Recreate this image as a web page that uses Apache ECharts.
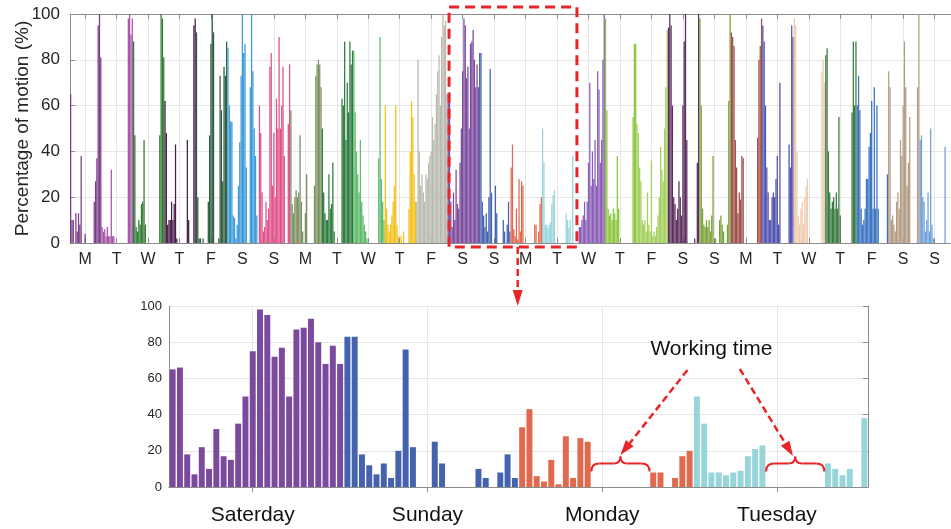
<!DOCTYPE html>
<html><head><meta charset="utf-8">
<script src="https://cdn.jsdelivr.net/npm/echarts@6/dist/echarts.min.js"></script>
<style>html,body{margin:0;padding:0;background:#fff}#c{width:951px;height:529px}</style>
</head><body><div id="c"></div>
<script>
const dayLabels = ['M','T','W','T','F','S','S','M','T','W','T','F','S','S','M','T','W','T','F','S','S','M','T','W','T','F','S','S'];
const zoomLabels = ['Saterday','Sunday','Monday','Tuesday'];
const yTicks = [0, 20, 40, 60, 80, 100];

// zoomed days (hourly %)
const saturday = [65,66,18,7,22,10,32,17,15,35,50,75,98,95,72,77,50,87,88,93,80,68,78,68];
const sunday   = [83,83,18,12,7,13,5,20,76,22,0,0,25,13,0,0,0,0,10,5,0,8,18,5];
const monday   = [33,43,6,3,15,1.5,28,5,27,25,0,0,0,0,0,0,0,0,8,8,0,5,17,20];
const tuesday  = [50,35,8,8,6.5,8,9,17,21,23,0,0,0,0,0,0,0,0,13,10,6.5,10,0,38];

const week1 = [
 [65,10,10,0,13,5,13,8,38,0,0,4,0,0,0,0,0,0,18,27,37,95,100,81],
 [7,5,6,3,7,3,3,32,3,3,0,0,0,0,0,0,0,0,0,0,98,100,91,98],
 [88,47,7,5,10,8,17,18,45,8,0,0,0,0,0,0,0,0,0,0,47,100,98,81],
 [62,48,8,10,10,18,10,17,43,2,0,0,0,0,0,0,0,45,10,0,0,0,95,98],
 [92,20,2,2,0,2,0,0,0,18,47,87,100,92,0,0,0,2,73,58,27,77,73,88],
 [85,60,53,53,12,11,2,8,25,44,73,100,83,87,33,0,0,68,100,75,50,38,12,0],
 [60,48,22,5,7,18,10,15,77,83,25,48,20,63,50,90,50,60,77,38,0,0,52,78]
];
const week2 = [
 [58,17,13,20,23,20,22,47,18,5,0,13,30,0,0,0,0,0,25,73,78,80,78,68],
 [50,22,13,10,10,30,15,17,35,5,0,0,0,0,0,63,60,88,45,70,57,88,78,84],
 [84,57,40,30,22,45,18,12,8,5,2,0,0,0,0,0,0,0,0,37,90,28,18,10],
 [60,15,8,5,8,12,18,25,60,8,3,0,3,0,5,0,0,0,15,40,62,55,30,18],
 [18,80,40,25,30,22,18,30,28,35,38,40,55,45,52,65,75,82,60,90,100,95,97,65],
 saturday,
 sunday
];
const week3 = [
 monday,
 tuesday,
 [0,0,0,0,7,7,10,12,18,10,18,35,70,25,40,28,45,25,75,67,35,45,80,100],
 [98,58,15,12,13,10,15,13,10,38,15,0,0,0,0,0,0,0,0,0,0,55,87,87],
 [52,48,33,27,10,8,10,5,22,8,5,36,3,5,3,7,12,20,42,32,27,50,68,93],
 [94,100,95,60,20,17,10,15,27,20,12,60,88,100,45,0,0,0,0,0,2,0,35,100],
 [98,60,15,8,7,10,7,10,5,12,38,0,2,0,0,10,12,8,5,0,0,8,62,100]
];
const week4 = [
 [92,90,86,45,33,13,22,19,38,37,0,0,0,0,0,0,0,0,0,0,46,80,86,98],
 [95,88,60,33,22,10,10,20,22,20,28,38,8,70,0,0,0,0,0,0,43,33,95,90],
 [98,95,40,12,8,15,18,8,20,25,28,0,0,0,0,0,0,0,0,0,0,75,80,70],
 [82,85,40,22,15,18,20,15,22,15,55,12,0,0,0,0,0,0,0,0,57,88,60,88],
 [60,73,58,15,8,10,15,28,28,42,48,62,15,68,15,60,15,0,0,0,0,0,0,30],
 [75,68,10,12,8,5,18,22,15,45,38,60,88,68,25,35,55,0,0,0,0,0,68,100],
 [45,47,20,18,5,10,22,5,50,8,2,0,0,0,0,0,0,0,0,42,0,0,0,0]
];

const dayColors = ['#7D3C8C','#A855A8','#2E7D32','#4A1E48','#2F5D40','#3A9AD9','#E0508A',
                   '#7A9060','#2E7B3E','#5DBB6A','#F2C21B','#B9BAB0','#7B4A9E','#4462AE',
                   '#E0694E','#98D5DB','#8A5CB8','#8CC63F','#A3CF5A','#5C2E5E','#7AA23A',
                   '#A0504A','#5050B0','#F0CCAE','#3A7A40','#3A74C0','#B39C84','#6FA0D8'];
const zoomColors = ['#7B4A9E','#4462AE','#E0694E','#98D5DB'];

const topDays = [].concat(week1, week2, week3, week4);
const topValues = [].concat(...topDays);
const topCats = topValues.map((v, i) => 'h' + i);
const zoomValues = [].concat(saturday, sunday, monday, tuesday);
const zoomCats = zoomValues.map((v, i) => 'z' + i);

const FONT = '"Liberation Sans", Arial, sans-serif';
const TXT = '#262626';
const AX = '#8C8C8C';
const GRIDC = '#E6E6E6';
const RED = '#E8262A';
const mid = (i) => i % 24 === 11;

const chart = echarts.init(document.getElementById('c'), null, {renderer: 'canvas'});
chart.setOption({
  animation: false,
  backgroundColor: '#fff',
  grid: [
    {left: 70, right: -4, top: 14, bottom: 286},
    {left: 169, right: 83, top: 306, bottom: 42}
  ],
  xAxis: [
    {gridIndex: 0, type: 'category', data: topCats, position: 'bottom',
     axisLine: {lineStyle: {color: AX}},
     axisTick: {show: true, inside: true, length: 5, interval: mid, alignWithLabel: true, lineStyle: {color: AX}},
     axisLabel: {interval: mid, formatter: (v, i) => dayLabels[Math.floor(i / 24)], color: TXT, fontSize: 16, fontFamily: FONT, margin: 9},
     splitLine: {show: true, interval: mid, alignWithLabel: true, lineStyle: {color: GRIDC}}},
    {gridIndex: 0, type: 'category', data: topCats, position: 'top',
     axisLine: {lineStyle: {color: AX}},
     axisTick: {show: true, inside: true, length: 5, interval: mid, alignWithLabel: true, lineStyle: {color: AX}},
     axisLabel: {show: false}, splitLine: {show: false}},
    {gridIndex: 1, type: 'category', data: zoomCats, position: 'bottom',
     axisLine: {lineStyle: {color: AX}},
     axisTick: {show: false},
     axisLabel: {interval: mid, formatter: (v, i) => zoomLabels[Math.floor(i / 24)], color: '#111', fontSize: 21, fontFamily: FONT, margin: 18},
     splitLine: {show: true, interval: mid, alignWithLabel: true, lineStyle: {color: GRIDC}}},
    {gridIndex: 1, type: 'category', data: zoomCats, position: 'top',
     axisLine: {lineStyle: {color: AX}},
     axisTick: {show: true, inside: true, length: 5, interval: mid, alignWithLabel: true, lineStyle: {color: AX}},
     axisLabel: {show: false}, splitLine: {show: false}}
  ],
  yAxis: [
    {gridIndex: 0, type: 'value', min: 0, max: 100, interval: 20,
     name: 'Percentage of motion (%)', nameLocation: 'middle', nameGap: 38, nameRotate: 90,
     nameMoveOverlap: false,
     nameTextStyle: {color: TXT, fontSize: 19, fontFamily: FONT},
     axisLine: {show: true, lineStyle: {color: AX}},
     axisTick: {show: true, inside: true, length: 5, lineStyle: {color: AX}},
     axisLabel: {color: TXT, fontSize: 17, fontFamily: FONT, margin: 10, formatter: v => yTicks.includes(v) ? String(v) : ''},
     splitLine: {show: true, lineStyle: {color: GRIDC}}},
    {gridIndex: 1, type: 'value', min: 0, max: 100, interval: 20,
     axisLine: {show: true, lineStyle: {color: AX}},
     axisTick: {show: false},
     axisLabel: {color: TXT, fontSize: 13, fontFamily: FONT, margin: 7},
     splitLine: {show: true, lineStyle: {color: GRIDC}}},
    {gridIndex: 1, type: 'value', min: 0, max: 100, interval: 20, position: 'right',
     axisLine: {show: true, lineStyle: {color: AX}},
     axisTick: {show: true, inside: true, length: 5, lineStyle: {color: AX}},
     axisLabel: {show: false}, splitLine: {show: false}}
  ],
  series: [
    {type: 'bar', xAxisIndex: 0, yAxisIndex: 0, data: topValues, barCategoryGap: '4%',
     itemStyle: {color: p => dayColors[Math.floor(p.dataIndex / 24)]}, silent: true},
    {type: 'bar', xAxisIndex: 2, yAxisIndex: 1, data: zoomValues, barCategoryGap: '18%',
     itemStyle: {color: p => zoomColors[Math.floor(p.dataIndex / 24)]}, silent: true}
  ]
});

// annotations positioned through the chart's own scales
const px = (s, x, y) => chart.convertToPixel({seriesIndex: s}, [x, y]);
const topBand = px(0, 1, 0)[0] - px(0, 0, 0)[0];
const botBand = px(1, 1, 0)[0] - px(1, 0, 0)[0];
const tx = (i) => px(0, 0, 0)[0] + topBand * i;
const bx = (i) => px(1, 0, 0)[0] + botBand * i;
const ty = (v) => px(0, 0, v)[1];
const by = (v) => px(1, 0, v)[1];

const boxL = tx(12 * 24) - topBand / 2 + 1.5;
const boxR = tx(16 * 24 - 1) + topBand / 2 + 3.5;
const boxT = ty(100) - 7;
const boxB = ty(0) + 4;
const arrowX = tx(14 * 24 + 5);
const zoomTop = by(100);

function arrow(x1, y1, x2, y2, w, len) {
  const dx = x2 - x1, dy = y2 - y1, d = Math.hypot(dx, dy);
  const ux = dx / d, uy = dy / d, nx = -uy, ny = ux;
  const bxp = x2 - ux * len, byp = y2 - uy * len;
  return [
    {type: 'line', shape: {x1, y1, x2: bxp, y2: byp}, style: {stroke: RED, lineWidth: 2.5, lineDash: [7, 4]}, z: 100},
    {type: 'polygon', shape: {points: [[x2, y2], [bxp + nx * w, byp + ny * w], [bxp - nx * w, byp - ny * w]]}, style: {fill: RED}, z: 100}
  ];
}
function brace(x0, x1, y0) {
  const xc = (x0 + x1) / 2, s = {stroke: RED, lineWidth: 2, fill: 'none'};
  return [
    {type: 'bezierCurve', shape: {x1: x0, y1: y0 + 8, cpx1: x0, cpy1: y0, x2: x0 + 8, y2: y0}, style: s, z: 100},
    {type: 'line', shape: {x1: x0 + 8, y1: y0, x2: xc - 7, y2: y0}, style: s, z: 100},
    {type: 'bezierCurve', shape: {x1: xc - 7, y1: y0, cpx1: xc, cpy1: y0, x2: xc, y2: y0 - 7}, style: s, z: 100},
    {type: 'bezierCurve', shape: {x1: xc, y1: y0 - 7, cpx1: xc, cpy1: y0, x2: xc + 7, y2: y0}, style: s, z: 100},
    {type: 'line', shape: {x1: xc + 7, y1: y0, x2: x1 - 8, y2: y0}, style: s, z: 100},
    {type: 'bezierCurve', shape: {x1: x1 - 8, y1: y0, cpx1: x1, cpy1: y0, x2: x1, y2: y0 + 8}, style: s, z: 100}
  ];
}

const g = [
  {type: 'rect', shape: {x: boxL, y: boxT, width: boxR - boxL, height: boxB - boxT},
   style: {fill: 'none', stroke: RED, lineWidth: 3, lineDash: [10, 6]}, z: 100},
  ...arrow(arrowX, boxB, arrowX, zoomTop, 5, 16),
  {type: 'text', x: bx(74), y: by(76),
   style: {text: 'Working time', fill: '#111', font: '21px ' + FONT, align: 'center', verticalAlign: 'middle'}, z: 100},
  ...arrow(bx(70.7), by(64.6), bx(61.5), by(17.7), 5, 15),
  ...arrow(bx(77.9), by(65.2), bx(85.2), by(17.1), 5, 15),
  ...brace(bx(58) - botBand / 2, bx(65) + botBand / 2, by(13)),
  ...brace(bx(82) - botBand / 2, bx(89) + botBand / 2, by(13))
];
chart.setOption({graphic: {elements: g}});
</script>
</body></html>
